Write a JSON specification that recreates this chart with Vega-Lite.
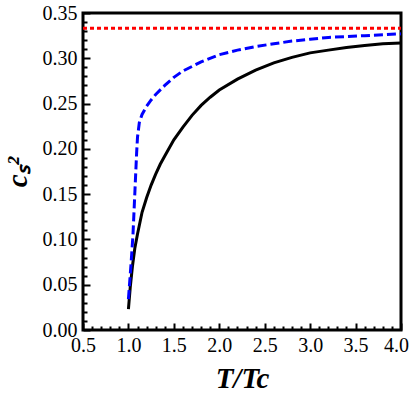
{
  "$schema": "https://vega.github.io/schema/vega-lite/v6.json",
  "width": 318,
  "height": 317,
  "autosize": {"type": "none"},
  "padding": {"left": 83, "top": 13, "right": 14, "bottom": 67},
  "background": "white",
  "config": {
    "view": {"stroke": "black", "strokeWidth": 3}
  },
  "datasets": {
    "curves": [
      {"T": 1.0, "cs2": 0.023, "series": "a"},
      {"T": 1.02, "cs2": 0.047, "series": "a"},
      {"T": 1.045, "cs2": 0.071, "series": "a"},
      {"T": 1.07, "cs2": 0.090, "series": "a"},
      {"T": 1.1, "cs2": 0.106, "series": "a"},
      {"T": 1.15, "cs2": 0.130, "series": "a"},
      {"T": 1.2, "cs2": 0.146, "series": "a"},
      {"T": 1.25, "cs2": 0.160, "series": "a"},
      {"T": 1.3, "cs2": 0.172, "series": "a"},
      {"T": 1.35, "cs2": 0.183, "series": "a"},
      {"T": 1.4, "cs2": 0.192, "series": "a"},
      {"T": 1.5, "cs2": 0.210, "series": "a"},
      {"T": 1.6, "cs2": 0.224, "series": "a"},
      {"T": 1.7, "cs2": 0.237, "series": "a"},
      {"T": 1.8, "cs2": 0.248, "series": "a"},
      {"T": 1.9, "cs2": 0.257, "series": "a"},
      {"T": 2.0, "cs2": 0.265, "series": "a"},
      {"T": 2.2, "cs2": 0.277, "series": "a"},
      {"T": 2.4, "cs2": 0.287, "series": "a"},
      {"T": 2.6, "cs2": 0.295, "series": "a"},
      {"T": 2.8, "cs2": 0.301, "series": "a"},
      {"T": 3.0, "cs2": 0.306, "series": "a"},
      {"T": 3.2, "cs2": 0.309, "series": "a"},
      {"T": 3.4, "cs2": 0.312, "series": "a"},
      {"T": 3.6, "cs2": 0.314, "series": "a"},
      {"T": 3.8, "cs2": 0.316, "series": "a"},
      {"T": 4.0, "cs2": 0.317, "series": "a"},
      {"T": 1.0, "cs2": 0.034, "series": "b"},
      {"T": 1.03, "cs2": 0.075, "series": "b"},
      {"T": 1.05, "cs2": 0.105, "series": "b"},
      {"T": 1.07, "cs2": 0.150, "series": "b"},
      {"T": 1.09, "cs2": 0.195, "series": "b"},
      {"T": 1.1, "cs2": 0.213, "series": "b"},
      {"T": 1.12, "cs2": 0.229, "series": "b"},
      {"T": 1.15, "cs2": 0.238, "series": "b"},
      {"T": 1.2, "cs2": 0.247, "series": "b"},
      {"T": 1.25, "cs2": 0.254, "series": "b"},
      {"T": 1.3, "cs2": 0.260, "series": "b"},
      {"T": 1.4, "cs2": 0.270, "series": "b"},
      {"T": 1.5, "cs2": 0.279, "series": "b"},
      {"T": 1.6, "cs2": 0.286, "series": "b"},
      {"T": 1.7, "cs2": 0.291, "series": "b"},
      {"T": 1.8, "cs2": 0.296, "series": "b"},
      {"T": 2.0, "cs2": 0.304, "series": "b"},
      {"T": 2.2, "cs2": 0.309, "series": "b"},
      {"T": 2.4, "cs2": 0.313, "series": "b"},
      {"T": 2.6, "cs2": 0.316, "series": "b"},
      {"T": 2.8, "cs2": 0.319, "series": "b"},
      {"T": 3.0, "cs2": 0.321, "series": "b"},
      {"T": 3.2, "cs2": 0.323, "series": "b"},
      {"T": 3.4, "cs2": 0.324, "series": "b"},
      {"T": 3.6, "cs2": 0.325, "series": "b"},
      {"T": 3.8, "cs2": 0.326, "series": "b"},
      {"T": 4.0, "cs2": 0.327, "series": "b"},
      {"T": 0.5, "cs2": 0.3333, "series": "c"},
      {"T": 4.0, "cs2": 0.3333, "series": "c"}
    ]
  },
  "data": {"name": "curves"},
  "encoding": {
    "x": {
      "field": "T", "type": "quantitative",
      "scale": {"domain": [0.5, 4], "nice": false, "zero": false},
      "axis": {
        "orient": "bottom",
        "zindex": 1,
        "grid": false,
        "domain": false,
        "ticks": true,
        "values": [0.5,0.6,0.7,0.8,0.9,1.0,1.1,1.2,1.3,1.4,1.5,1.6,1.7,1.8,1.9,2.0,2.1,2.2,2.3,2.4,2.5,2.6,2.7,2.8,2.9,3.0,3.1,3.2,3.3,3.4,3.5,3.6,3.7,3.8,3.9,4.0],
        "labelExpr": "abs(datum.value * 2 - round(datum.value * 2)) < 0.001 ? format(datum.value, '.1f') : ''",
        "tickSize": {"condition": {"test": "abs(datum.value * 2 - round(datum.value * 2)) < 0.001", "value": -7}, "value": -4},
        "labelOffset": {"condition": {"test": "datum.value > 3.99", "value": -5}, "value": 0},
        "tickColor": "black",
        "tickWidth": 2,
        "labelOverlap": false,
        "labelFlush": false,
        "labelFont": "Liberation Serif",
        "labelFontSize": 20,
        "labelColor": "black",
        "labelPadding": 12,
        "title": "T/Tc",
        "titleFont": "Liberation Serif",
        "titleColor": "black",
        "titleFontSize": 29,
        "titleFontWeight": "bold",
        "titleFontStyle": "italic",
        "titlePadding": 6
      }
    },
    "y": {
      "field": "cs2", "type": "quantitative",
      "scale": {"domain": [0, 0.35], "nice": false, "zero": false},
      "axis": {
        "orient": "left",
        "zindex": 1,
        "grid": false,
        "domain": false,
        "ticks": true,
        "values": [0,0.01,0.02,0.03,0.04,0.05,0.06,0.07,0.08,0.09,0.1,0.11,0.12,0.13,0.14,0.15,0.16,0.17,0.18,0.19,0.2,0.21,0.22,0.23,0.24,0.25,0.26,0.27,0.28,0.29,0.3,0.31,0.32,0.33,0.34,0.35],
        "labelExpr": "abs(datum.value * 20 - round(datum.value * 20)) < 0.001 ? format(datum.value, '.2f') : ''",
        "tickSize": {"condition": {"test": "abs(datum.value * 20 - round(datum.value * 20)) < 0.001", "value": -7}, "value": -4},
        "tickColor": "black",
        "tickWidth": 2,
        "labelOverlap": false,
        "labelFlush": false,
        "labelFont": "Liberation Serif",
        "labelFontSize": 20,
        "labelColor": "black",
        "labelPadding": 13,
        "title": "cₛ²",
        "titleFont": "Liberation Serif",
        "titleColor": "black",
        "titleFontSize": 29,
        "titleFontWeight": "bold",
        "titleFontStyle": "italic",
        "titlePadding": 10
      }
    }
  },
  "layer": [
    {
      "transform": [{"filter": "datum.series == 'a'"}],
      "mark": {"type": "line", "color": "black", "strokeWidth": 3}
    },
    {
      "transform": [{"filter": "datum.series == 'b'"}],
      "mark": {"type": "line", "color": "#0000ff", "strokeWidth": 3, "strokeDash": [9, 4]}
    },
    {
      "transform": [{"filter": "datum.series == 'c'"}],
      "mark": {"type": "line", "color": "#ff0000", "strokeWidth": 3, "strokeDash": [4, 3]}
    }
  ]
}
